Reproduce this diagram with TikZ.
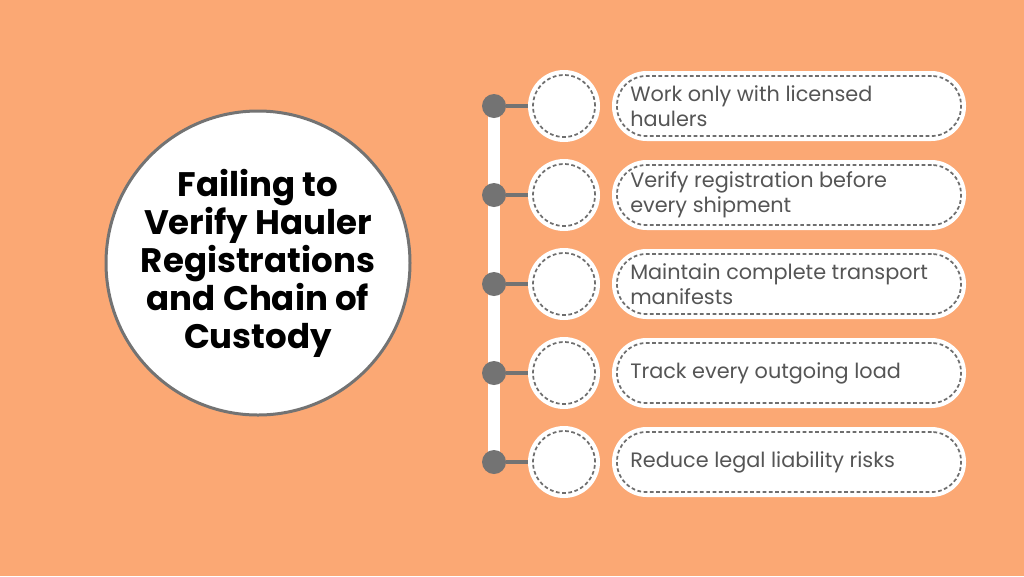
\documentclass[tikz,border=0pt]{standalone}
\usepackage{fontspec}
\setmainfont{Poppins}
\usetikzlibrary{calc}
\definecolor{cBg}{HTML}{FBA874}
\definecolor{cDot}{HTML}{737373}
\definecolor{cTxt}{HTML}{555555}
\definecolor{cDash}{HTML}{6E6E6E}
\tikzset{
    hub/.style    ={circle, draw=cDot, line width=2.25pt, fill=white, minimum size=228pt,
                    inner sep=0pt},
    title/.style  ={align=center, inner sep=0pt, text=black,
                    font=\fontsize{25.5}{28.5}\selectfont\bfseries},
    dot/.style    ={circle, fill=cDot, minimum size=18pt, inner sep=0pt},
    ring/.style   ={circle, fill=white, minimum size=54pt, inner sep=0pt},
    ringin/.style ={circle, draw=cDash, line width=1.3pt, dash pattern=on 2.8pt off 1.9pt,
                    minimum size=46.5pt, inner sep=0pt},
    card/.style   ={rectangle, rounded corners=26pt, fill=white, minimum width=265.5pt,
                    minimum height=52.5pt, inner sep=0pt},
    cardin/.style ={rectangle, rounded corners=22pt, draw=cDash, line width=1.3pt,
                    dash pattern=on 2.8pt off 1.9pt, minimum width=258pt,
                    minimum height=45pt, inner sep=0pt},
    lbl/.style    ={anchor=west, align=left, text=cTxt, inner sep=0pt,
                    font=\fontsize{15.6}{18.75}\selectfont},
    spine/.style  ={white, line width=9pt},
    stem/.style   ={cDot, line width=3pt},
}

\begin{document}
\begin{tikzpicture}[x=0.75pt, y=-0.75pt]

% ===================== Fondo =====================
\fill[cBg] (0,0) rectangle (1024,576);
\useasboundingbox (0,0) rectangle (1024,576);

% ===================== Circulo central =====================
\node[hub] (hub) at (258,263) {};
\node[title] (title) at (hub.center)
     {Failing to\\Verify Hauler\\Registrations\\and Chain of\\Custody};

% ===================== Lista de pasos =====================
\coordinate (top) at (494,106);
\coordinate (bot) at (494,462);
\draw[spine] (top) -- (bot);

\foreach \i/\y/\txt in {1/106/{Work only with licensed\\haulers},
                        2/195/{Verify registration before\\every shipment},
                        3/284/{Maintain complete transport\\manifests},
                        4/373/{Track every outgoing load},
                        5/462/{Reduce legal liability risks}} {
  \node[dot]    (dot\i)   at (494,\y) {};
  \node[ring]   (ring\i)  at (564,\y) {};
  \node[ringin] (ringin\i) at (ring\i) {};
  \draw[stem] (dot\i) -- (ring\i);
  \node[card]   (card\i)  at (789,\y) {};
  \node[cardin] (cardin\i) at (card\i) {};
  \node[lbl]    (lbl\i)   at (630,\y) {\txt};
}

\end{tikzpicture}
\end{document}
